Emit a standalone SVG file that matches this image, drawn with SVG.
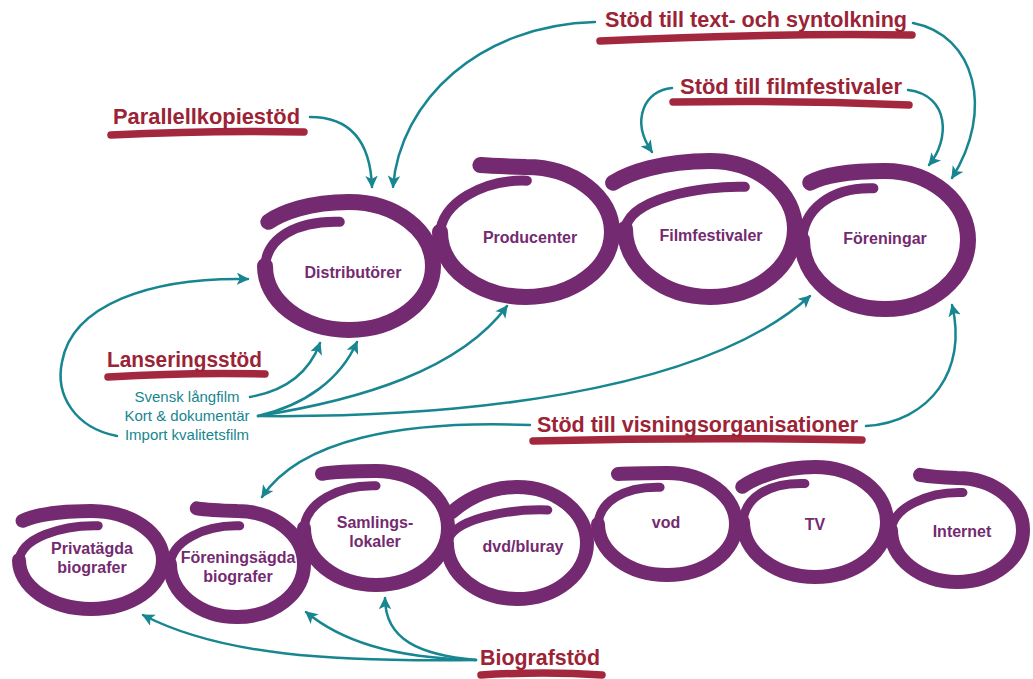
<svg xmlns="http://www.w3.org/2000/svg" width="1033" height="679" viewBox="0 0 1033 679">
<defs>
<style>
.ring{fill:none;stroke:#742a70;stroke-linecap:round;stroke-linejoin:round;vector-effect:non-scaling-stroke}
.top .ring{stroke-width:16}
.top .tail{stroke-width:10}
.bot .ring{stroke-width:14}
.bot .tail{stroke-width:9}
.lbl{font-family:"Liberation Sans",Arial,sans-serif;font-weight:bold;font-size:16px;fill:#742a70;text-anchor:middle}
.head{font-family:"Liberation Sans",Arial,sans-serif;font-weight:bold;font-size:22px;fill:#9b2336}
.ul{fill:none;stroke:#a3283d;stroke-width:7.5;stroke-linecap:round}
.sub{font-family:"Liberation Sans",Arial,sans-serif;font-size:15px;fill:#178690;text-anchor:middle}
.arr{fill:none;stroke:#178690;stroke-width:2.5;stroke-linecap:round;marker-end:url(#ah)}
</style>
<marker id="ah" viewBox="0 0 10 10" refX="9" refY="5" markerWidth="5" markerHeight="5" orient="auto" markerUnits="strokeWidth">
<path d="M0,0 L10,5 L0,10 L2.5,5 z" fill="#178690"/>
</marker>
</defs>
<rect width="1033" height="679" fill="#ffffff"/>

<!-- top row nodes -->
<g class="top">
<g id="distributorer">
<g transform="translate(349,266) scale(84,64)">
<path class="ring" d="M-1,0 A1,1 0 0 0 0,1 A1,1 0 0 0 1,0 A1,1 0 0 0 0,-1 C-0.48,-1 -0.8,-0.83 -0.96,-0.69"/>
<path class="ring tail" d="M-1,0.05 C-1,-0.45 -0.61,-0.71 -0.11,-0.69"/>
</g>
<text class="lbl" x="353" y="278">Distributörer</text>
</g>
<g id="producenter">
<g transform="translate(526,232) scale(86,65)">
<path class="ring" d="M-1,0 A1,1 0 0 0 0,1 A1,1 0 0 0 1,0 A1,1 0 0 0 0,-1 C-0.27,-1.01 -0.45,-1.02 -0.53,-1.03"/>
<path class="ring tail" d="M-1,0.05 C-1,-0.45 -0.49,-0.81 0.01,-0.79"/>
</g>
<text class="lbl" x="530" y="243">Producenter</text>
</g>
<g id="filmfestivaler">
<g transform="translate(710,229) scale(85,68)">
<path class="ring" d="M-1,0 A1,1 0 0 0 0,1 A1,1 0 0 0 1,0 A1,1 0 0 0 0,-1 C-0.57,-1 -0.96,-0.82 -1.14,-0.68"/>
<path class="ring tail" d="M-1,0.05 C-1,-0.45 -0.09,-0.64 0.41,-0.62"/>
</g>
<text class="lbl" x="711" y="241">Filmfestivaler</text>
</g>
<g id="foreningar">
<g transform="translate(885,240) scale(83,69)">
<path class="ring" d="M-1,0 A1,1 0 0 0 0,1 A1,1 0 0 0 1,0 A1,1 0 0 0 0,-1 C-0.45,-1 -0.76,-0.93 -0.9,-0.83"/>
<path class="ring tail" d="M-1,0.05 C-1,-0.45 -0.64,-0.77 -0.14,-0.75"/>
</g>
<text class="lbl" x="885" y="244">Föreningar</text>
</g>
</g>

<!-- bottom row nodes -->
<g class="bot">
<g id="privatagda">
<g transform="translate(91,560) scale(72,49)">
<path class="ring" d="M-1,0 A1,1 0 0 0 0,1 A1,1 0 0 0 1,0 A1,1 0 0 0 0,-1 C-0.48,-1 -0.8,-0.9 -0.95,-0.8"/>
<path class="ring tail" d="M-1,0.05 C-1,-0.45 -0.4,-0.72 0.1,-0.7"/>
</g>
<text class="lbl" x="92" y="554">Privatägda</text>
<text class="lbl" x="92" y="573">biografer</text>
</g>
<g id="foreningsagda">
<g transform="translate(237,564) scale(67,53)">
<path class="ring" d="M-1,0 A1,1 0 0 0 0,1 A1,1 0 0 0 1,0 A1,1 0 0 0 0,-1 C-0.3,-1.01 -0.5,-1.03 -0.6,-1.05"/>
<path class="ring tail" d="M-1,0.05 C-1,-0.45 -0.46,-0.74 0.04,-0.72"/>
</g>
<text class="lbl" x="238" y="563">Föreningsägda</text>
<text class="lbl" x="238" y="582">biografer</text>
</g>
<g id="samlingslokaler">
<g transform="translate(376,528) scale(72,57)">
<path class="ring" d="M-1,0 A1,1 0 0 0 0,1 A1,1 0 0 0 1,0 A1,1 0 0 0 0,-1 C-0.38,-1 -0.62,-0.98 -0.75,-0.95"/>
<path class="ring tail" d="M-1,0.05 C-1,-0.45 -0.5,-0.76 0,-0.74"/>
</g>
<text class="lbl" x="375" y="528">Samlings-</text>
<text class="lbl" x="375" y="547">lokaler</text>
</g>
<g id="dvd">
<g transform="translate(517,543) scale(70,56)">
<path class="ring" d="M-1,0 A1,1 0 0 0 0,1 A1,1 0 0 0 1,0 A1,1 0 0 0 0,-1 C-0.47,-1 -0.8,-0.7 -0.93,-0.55"/>
<path class="ring tail" d="M-1,0.05 C-1,-0.45 -0.06,-0.61 0.44,-0.59"/>
</g>
<text class="lbl" x="523" y="552">dvd/bluray</text>
</g>
<g id="vod">
<g transform="translate(667,524) scale(69,51)">
<path class="ring" d="M-1,0 A1,1 0 0 0 0,1 A1,1 0 0 0 1,0 A1,1 0 0 0 0,-1 C-0.36,-1 -0.6,-0.99 -0.71,-0.98"/>
<path class="ring tail" d="M-1,0.05 C-1,-0.45 -0.6,-0.74 -0.1,-0.72"/>
</g>
<text class="lbl" x="666" y="528">vod</text>
</g>
<g id="tv">
<g transform="translate(815,522) scale(72,55)">
<path class="ring" d="M-1,0 A1,1 0 0 0 0,1 A1,1 0 0 0 1,0 A1,1 0 0 0 0,-1 C-0.5,-1 -0.86,-0.78 -1.01,-0.64"/>
<path class="ring tail" d="M-1,0.05 C-1,-0.45 -0.64,-0.72 -0.14,-0.7"/>
</g>
<text class="lbl" x="815" y="530">TV</text>
</g>
<g id="internet">
<g transform="translate(957,530) scale(66,52)">
<path class="ring" d="M-1,0 A1,1 0 0 0 0,1 A1,1 0 0 0 1,0 A1,1 0 0 0 0,-1 C-0.28,-1.01 -0.47,-1.04 -0.56,-1.06"/>
<path class="ring tail" d="M-1,0.05 C-1,-0.45 -0.41,-0.74 0.09,-0.72"/>
</g>
<text class="lbl" x="962" y="537">Internet</text>
</g>
</g>

<!-- support labels -->
<g id="parallellkopiestod">
<path class="ul" d="M111,135 Q210,130 304,132"/>
<text class="head" x="113" y="124" textLength="187" lengthAdjust="spacingAndGlyphs">Parallellkopiestöd</text>
</g>
<g id="textsyntolkning">
<path class="ul" d="M600,41 Q760,33 912,35"/>
<text class="head" x="605" y="27" textLength="302" lengthAdjust="spacingAndGlyphs">Stöd till text- och syntolkning</text>
</g>
<g id="filmfestivalstod">
<path class="ul" d="M673,102 Q790,100 909,105"/>
<text class="head" x="680" y="94" textLength="222" lengthAdjust="spacingAndGlyphs">Stöd till filmfestivaler</text>
</g>
<g id="lanseringsstod">
<path class="ul" d="M108,377 Q190,372 265,374"/>
<text class="head" x="107" y="367" textLength="155" lengthAdjust="spacingAndGlyphs">Lanseringsstöd</text>
<text class="sub" x="187" y="402">Svensk långfilm</text>
<text class="sub" x="187" y="421">Kort &amp; dokumentär</text>
<text class="sub" x="187" y="440">Import kvalitetsfilm</text>
</g>
<g id="visningsorganisationer">
<path class="ul" d="M533,441 Q700,437 862,440"/>
<text class="head" x="537" y="432" textLength="321" lengthAdjust="spacingAndGlyphs">Stöd till visningsorganisationer</text>
</g>
<g id="biografstod">
<path class="ul" d="M481,675 Q545,671 602,675"/>
<text class="head" x="480" y="665" textLength="120" lengthAdjust="spacingAndGlyphs">Biografstöd</text>
</g>

<!-- connectors -->
<g id="connectors">
<path class="arr" d="M310,117 C345,117 370,135 372,187"/>
<path class="arr" d="M595,22 C480,25 400,100 393,187"/>
<path class="arr" d="M913,23 C975,35 995,110 952,178"/>
<path class="arr" d="M672,88 C645,90 630,120 652,152"/>
<path class="arr" d="M908,90 C950,95 950,140 929,165"/>
<path class="arr" d="M117,436 C75,428 55,395 62,362 C72,305 150,277 248,279"/>
<path class="arr" d="M250,397 C290,390 310,370 320,343"/>
<path class="arr" d="M258,416 C305,405 340,380 357,342"/>
<path class="arr" d="M258,416 C360,400 460,370 507,306"/>
<path class="arr" d="M258,416 C450,418 700,395 810,296"/>
<path class="arr" d="M866,426 C930,422 968,370 952,305"/>
<path class="arr" d="M530,425 C400,420 300,440 262,497"/>
<path class="arr" d="M476,660 C330,662 220,655 143,615"/>
<path class="arr" d="M476,660 C390,658 340,640 306,612"/>
<path class="arr" d="M476,660 C420,655 385,640 385,598"/>
</g>
</svg>
